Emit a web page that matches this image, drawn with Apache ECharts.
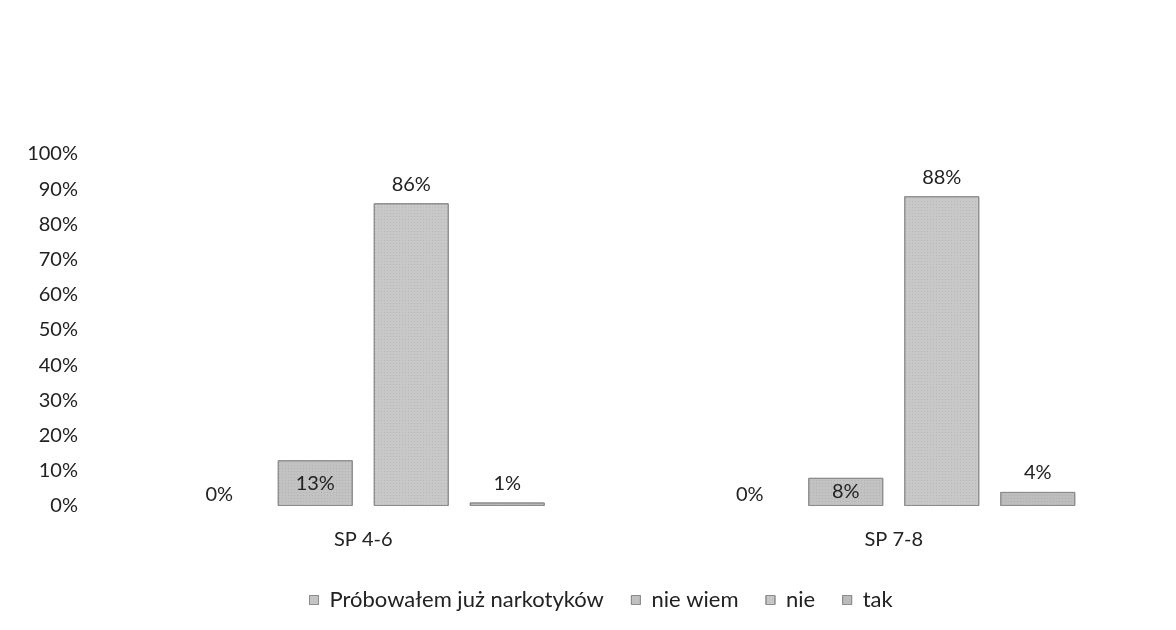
<!DOCTYPE html>
<html>
<head>
<meta charset="utf-8">
<script src="https://cdn.jsdelivr.net/npm/echarts@6/dist/echarts.min.js"></script>
<style>
    html, body { margin: 0; padding: 0; background: #fff; }
    #chart { width: 1176px; height: 630px; }
</style>
</head>
<body>
<div id="chart"></div>
<script>
    // kategorie (klasy) i serie odpowiedzi, w procentach
    const categories = ['SP 4-6', 'SP 7-8'];
    const seriesNames = ['Próbowałem już narkotyków', 'nie wiem', 'nie', 'tak'];
    const probowalem = [0, 0];
    const nieWiem = [13, 8];
    const nie = [86, 88];
    const tak = [1, 4];

    const fills = ['#c6c6c6', '#c2c2c2', '#c8c8c8', '#bdbdbd'];
    const font = 'Lato, "Open Sans", sans-serif';

    function makeSeries(name, data, idx, labelPos, labelDist, border) {
        return {
            name: name,
            type: 'bar',
            data: data,
            barWidth: 75,
            barGap: '28%',
            itemStyle: {
                color: fills[idx],
                borderColor: '#8c8c8c',
                borderWidth: border,
                decal: {
                    symbol: 'rect',
                    symbolSize: 0.6,
                    color: 'rgba(60,60,60,0.35)',
                    dashArrayX: [1, 2],
                    dashArrayY: [1, 2]
                }
            },
            label: {
                show: true,
                position: labelPos,
                distance: labelDist,
                formatter: '{c}%',
                color: '#222',
                fontFamily: font,
                fontSize: 20
            }
        };
    }

    const chart = echarts.init(document.getElementById('chart'));
    chart.setOption({
        backgroundColor: '#fff',
        animation: false,
        aria: { enabled: false },
        grid: { left: 98, right: 17, top: 154, bottom: 124 },
        legend: {
            top: 584,
            left: 304,
            icon: 'rect',
            itemWidth: 9,
            itemHeight: 9,
            itemGap: 27,
            itemStyle: { borderColor: '#8c8c8c', borderWidth: 1 },
            textStyle: { color: '#222', fontFamily: font, fontSize: 22, padding: [0, 0, 0, 6] },
            data: seriesNames
        },
        xAxis: {
            type: 'category',
            data: categories,
            axisLine: { show: false },
            axisTick: { show: false },
            axisLabel: { margin: 24, color: '#222', fontFamily: font, fontSize: 20 }
        },
        yAxis: {
            type: 'value',
            min: 0,
            max: 100,
            interval: 10,
            splitLine: { show: false },
            axisLine: { show: false },
            axisTick: { show: false },
            axisLabel: { formatter: '{value}%', margin: 20, color: '#222', fontFamily: font, fontSize: 20 }
        },
        series: [
            makeSeries(seriesNames[0], probowalem, 0, 'top', 1, 0),
            makeSeries(seriesNames[1], nieWiem, 1, 'inside', 0, 1),
            makeSeries(seriesNames[2], nie, 2, 'top', 9, 1),
            makeSeries(seriesNames[3], tak, 3, 'top', 9, 1)
        ]
    });
</script>
</body>
</html>
